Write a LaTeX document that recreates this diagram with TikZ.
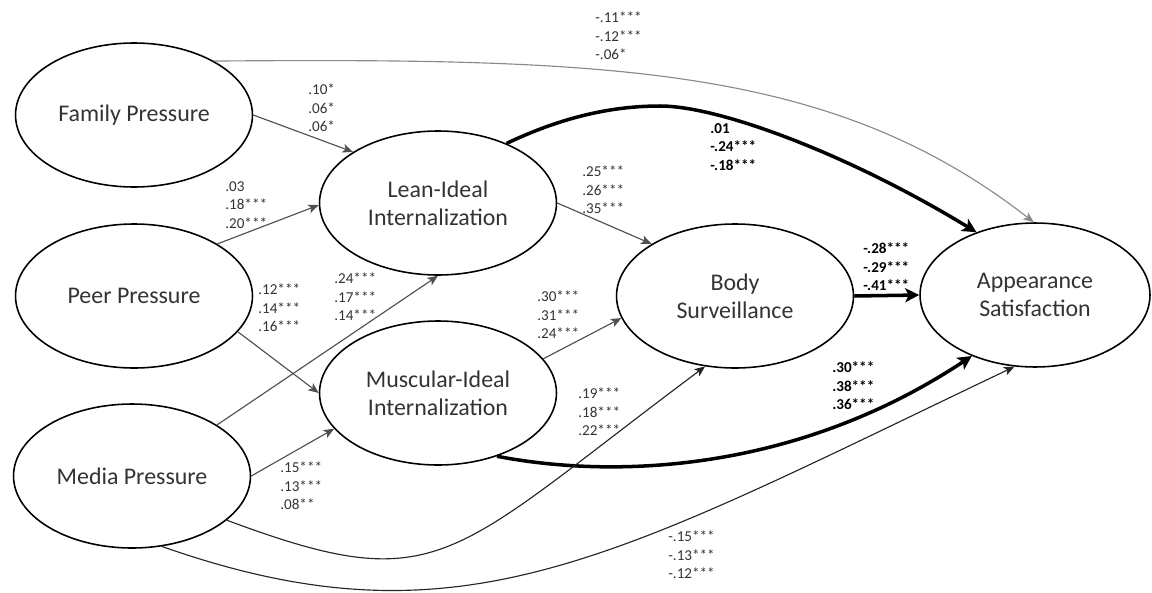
\documentclass[tikz,border=0pt]{standalone}
\usepackage{fontspec}
\setmainfont{Carlito}
\usetikzlibrary{shapes.geometric,arrows.meta}
\definecolor{pathGray}{HTML}{505050}
\definecolor{lightPath}{HTML}{8A8A8A}
\definecolor{textGray}{HTML}{333333}

\tikzset{
  latent/.style={ellipse,draw,line width=0.9pt,minimum width=4.74cm,minimum height=2.88cm,
    inner sep=0pt,align=center,text=textGray,font=\fontsize{13.6}{15.8}\selectfont},
  coef/.style={anchor=west,align=left,inner sep=0pt,text=textGray,font=\fontsize{8.6}{10.5}\selectfont},
  coefBold/.style={coef,font=\fontsize{8.6}{10.5}\selectfont\bfseries,text=black},
  thinPath/.style={draw=pathGray,line width=0.65pt,-{Stealth[length=6pt,width=5pt,inset=1.5pt]}},
  thickPath/.style={draw=black,line width=2pt,-{Stealth[length=8pt,width=8pt,inset=2pt]}}
}

\begin{document}
\begin{tikzpicture}[x=0.02cm,y=-0.02cm]
  \useasboundingbox (0,0) rectangle (1152,592);

  % the latent variables
  \node[latent] (fam)   at (134,115) {Family Pressure};
  \node[latent] (peer)  at (134,296) {Peer Pressure};
  \node[latent] (media) at (132,476) {Media Pressure};
  \node[latent] (lean)  at (438,203) {Lean-Ideal\\Internalization};
  \node[latent] (musc)  at (438,393) {Muscular-Ideal\\Internalization};
  \node[latent] (body)  at (735,296) {Body\\Surveillance};
  \node[latent,minimum width=4.6cm] (app) at (1035,295) {Appearance\\Satisfaction};

  % the straight paths
  \draw[thinPath] (fam.east) -- (lean.149);
  \draw[thinPath] (peer.32) -- (lean.181);
  \draw[thinPath] (peer.-19) -- (musc.west);
  \draw[thinPath] (media.31) -- (lean.south);
  \draw[thinPath] (media.east) -- (musc.199);
  \draw[thinPath] (lean.east) -- (body.148);
  \draw[thinPath] (musc.18) -- (body.191);
  \draw[thickPath] (body.east) -- (app.west);

  % the curved paths
  \draw[thinPath,draw=lightPath] (fam.34) .. controls (613,58) and (833,66) .. (app.91);
  \draw[thickPath] (lean.41) .. controls (560,118) and (610,106) .. (660,106)
    .. controls (720,106) and (850,155) .. (app.133);
  \draw[thickPath] (musc.-47) .. controls (620,480) and (800,470) .. (app.224);
  \draw[thinPath,draw=black!85] (media.-25) .. controls (441,600) and (447,559) .. (body.247);
  \draw[thinPath,draw=black!85] (media.-67) .. controls (462,652) and (613,558) .. (app.254);

  % the coefficients
  \node[coef] (cFamLean)    at (308,108) {.10*\\.06*\\.06*};
  \node[coef] (cFamApp)     at (595,36)  {-.11***\\-.12***\\-.06*};
  \node[coef] (cPeerLean)   at (225,205) {.03\\.18***\\.20***};
  \node[coef] (cPeerMusc)   at (258,308) {.12***\\.14***\\.16***};
  \node[coef] (cMediaLean)  at (334,297) {.24***\\.17***\\.14***};
  \node[coef] (cMediaMusc)  at (280,486) {.15***\\.13***\\.08**};
  \node[coef] (cLeanBody)   at (582,190) {.25***\\.26***\\.35***};
  \node[coef] (cMuscBody)   at (537,315) {.30***\\.31***\\.24***};
  \node[coef] (cMediaBody)  at (578,412) {.19***\\.18***\\.22***};
  \node[coef] (cMediaApp)   at (668,555) {-.15***\\-.13***\\-.12***};
  \node[coefBold] (cLeanApp) at (710,147) {.01\\-.24***\\-.18***};
  \node[coefBold] (cBodyApp) at (863,267) {-.28***\\-.29***\\-.41***};
  \node[coefBold] (cMuscApp) at (832,386) {.30***\\.38***\\.36***};

\end{tikzpicture}
\end{document}
